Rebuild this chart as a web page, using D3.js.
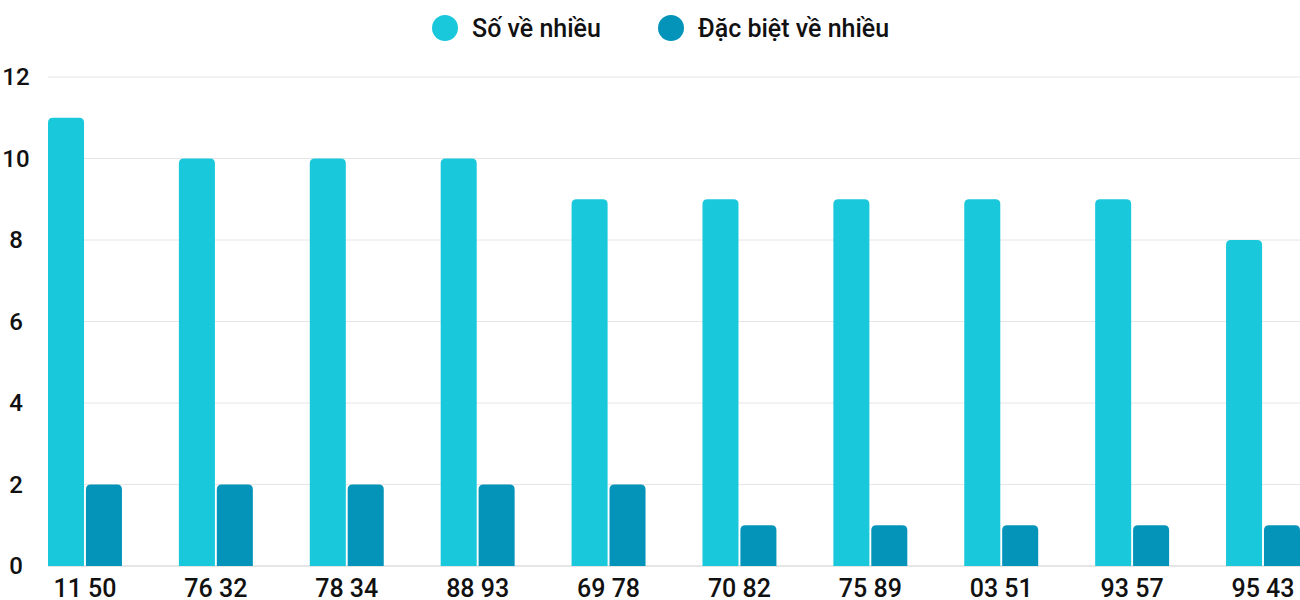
<!DOCTYPE html>
<html><head><meta charset="utf-8">
<script src="https://cdn.jsdelivr.net/npm/d3@7"></script>
<style>body{margin:0;background:#fff;overflow:hidden}text{font-family:Roboto,sans-serif;font-weight:500}</style>
</head><body><svg id="c" width="1300" height="600"></svg>
<script>
const categories = ['11 50','76 32','78 34','88 93','69 78','70 82','75 89','03 51','93 57','95 43'];
const soVeNhieu = [11,10,10,10,9,9,9,9,9,8];
const dacBiet = [2,2,2,2,2,1,1,1,1,1];
const seriesNames = ['Số về nhiều','Đặc biệt về nhiều'];
const colors = ['#1ac8db','#0494b9'];
const yTicks = [0,2,4,6,8,10,12];

const svg = d3.select('#c');
const x = d3.scaleBand().domain(categories).range([48,1300]).paddingInner(0.435).paddingOuter(0);
const xs = d3.scaleBand().domain([0,1]).range([0, x.bandwidth()]).paddingInner(0.05);
const y = d3.scaleLinear().domain([0,12]).range([566,77]);

// grid
svg.selectAll('.g').data(yTicks).enter().append('line')
  .attr('x1',48).attr('x2',1300).attr('y1',d=>y(d)).attr('y2',d=>y(d))
  .attr('stroke',d=>d===0?'#ccc':'#e6e6e6');
svg.selectAll('.yl').data(yTicks).enter().append('text')
  .attr('x',16).attr('y',d=>y(d)+8).attr('text-anchor','middle')
  .attr('font-size',24).attr('fill','#111').text(d=>d);

// rounded-top bar path
function barPath(x0,w,yt,yb,r){
  r=Math.min(r,(yb-yt));
  return `M${x0},${yb}V${yt+r}Q${x0},${yt} ${x0+r},${yt}H${x0+w-r}Q${x0+w},${yt} ${x0+w},${yt+r}V${yb}Z`;
}
[soVeNhieu,dacBiet].forEach((vals,si)=>{
  svg.selectAll('.b'+si).data(vals).enter().append('path')
    .attr('fill',colors[si])
    .attr('d',(d,i)=>barPath(x(categories[i])+xs(si),xs.bandwidth(),y(d),y(0),5));
});

svg.selectAll('.xl').data(categories).enter().append('text')
  .attr('x',d=>x(d)+x.bandwidth()/2).attr('y',597).attr('text-anchor','middle')
  .attr('font-size',25).attr('fill','#111').text(d=>d);

// legend
const lx=[445,671];
seriesNames.forEach((n,i)=>{
  svg.append('circle').attr('cx',lx[i]).attr('cy',28).attr('r',13).attr('fill',colors[i]);
  svg.append('text').attr('x',lx[i]+27).attr('y',37).attr('font-size',25).attr('fill','#111').text(n);
});
</script></body></html>
